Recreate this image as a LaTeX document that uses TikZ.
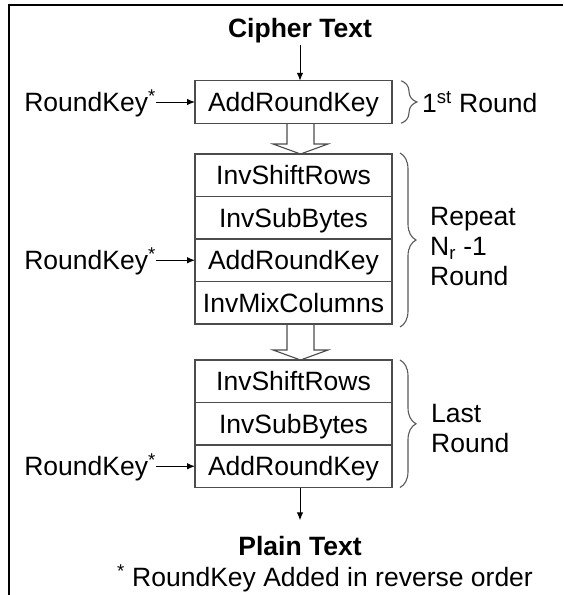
\documentclass[tikz,border=0pt]{standalone}
\usepackage{fontspec}
\setmainfont{Liberation Sans}
\usetikzlibrary{decorations.pathreplacing,positioning,calc,arrows.meta}

\begin{document}
\begin{tikzpicture}[x=1pt,y=-1pt,>={Latex[length=8pt,width=6.5pt]},
    txt/.style={font=\fontsize{26.5}{30}\selectfont,inner sep=0pt,text height=19pt,text depth=0pt},
    stage/.style={txt,draw=black!70,line width=1.1pt,minimum width=197pt,minimum height=42.5pt,outer sep=0pt},
    side/.style={font=\fontsize{26.5}{30}\selectfont,inner sep=0pt,anchor=west,align=left},
    link/.style={->,line width=1pt},
    brc/.style={draw=black!65,line width=1.1pt,decorate,decoration={brace,amplitude=16pt}},
    hollow/.style={draw=black!70,line width=1.1pt,line join=miter}]
  \useasboundingbox (0,0) rectangle (563,595);
  \draw[line width=2.7pt] (563,5) -- (9,5) -- (9,595);
  % input and first round
  \node[txt,font=\fontsize{26.5}{30}\selectfont\bfseries] (cipher) at (300,28) {Cipher Text};
  \node[stage] (ark1) at (293.5,102) {AddRoundKey};
  % repeated rounds
  \node[stage] (isr1) at (293.5,175.25) {InvShiftRows};
  \node[stage,below=0pt of isr1] (isb1) {InvSubBytes};
  \node[stage,below=0pt of isb1] (ark2) {AddRoundKey};
  \node[stage,below=0pt of ark2] (imc1) {InvMixColumns};
  % last round
  \node[stage] (isr2) at (293.5,381.25) {InvShiftRows};
  \node[stage,below=0pt of isr2] (isb2) {InvSubBytes};
  \node[stage,below=0pt of isb2] (ark3) {AddRoundKey};
  \node[txt,font=\fontsize{26.5}{30}\selectfont\bfseries] (plain) at (300,546) {Plain Text};
  \node[txt] (note) at (325,577) {\textsuperscript{*} RoundKey Added in reverse order};
  % round keys
  \foreach \k in {1,2,3}
    \node[txt,anchor=east] (key\k) at ($(ark\k.west)+(-39,0)$) {RoundKey\textsuperscript{*}};
  \foreach \k in {1,2,3}
    \draw[link] (key\k.east) -- (ark\k.west);
  \draw[link,shorten <=7pt] (cipher.south) -- (cipher.south |- ark1.north);
  \draw[link,shorten >=16pt] (ark3.south -| plain) -- (plain.north);
  % hollow arrows between blocks
  \coordinate (axis) at (300.5,0);
  \foreach \a/\b in {ark1/isr1,imc1/isr2}
    \draw[hollow] ($(axis |- \a.south)+(-13.5,0)$) -- ($(axis |- \b.north)+(-13.5,-10)$)
      -- ++(-14,0) -- (axis |- \b.north) -- ++(27.5,-10) -- ++(-14,0)
      -- ($(axis |- \a.south)+(13.5,0)$);
  % braces
  \draw[brc] ($(ark1.north east)+(9,0)$) -- ($(ark1.south east)+(9,0)$);
  \draw[brc] ($(isr1.north east)+(8,-1)$) -- ($(imc1.south east)+(8,3)$);
  \draw[brc] ($(isr2.north east)+(8,0)$) -- ($(ark3.south east)+(8,0)$);
  \node[side] (r1) at (422,102) {1\textsuperscript{st} Round};
  \node[side] (r2) at (430,247) {Repeat\\N\textsubscript{r} -1\\Round};
  \node[side,font=\fontsize{26.5}{29.5}\selectfont] (r3) at (431,428.5) {Last\\Round};
\end{tikzpicture}
\end{document}
